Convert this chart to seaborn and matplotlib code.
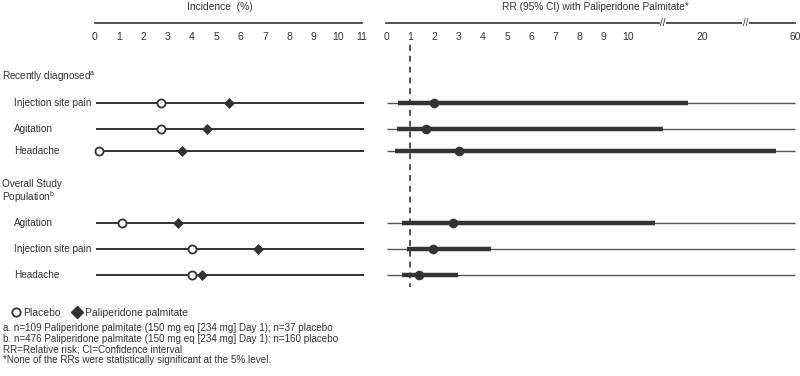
import matplotlib
matplotlib.use("Agg")
import matplotlib.pyplot as plt
from matplotlib.lines import Line2D
from matplotlib.transforms import blended_transform_factory
import numpy as np
import pandas as pd
import seaborn as sns

# data
events = ['Injection site pain', 'Agitation', 'Headache',
          'Agitation', 'Injection site pain', 'Headache']
placebo_pct = [2.7, 2.7, 0.15, 1.1, 4.0, 4.0]
pp_pct = [5.5, 4.6, 3.6, 3.4, 6.7, 4.4]
rr = [2.0, 1.65, 3.0, 2.75, 1.95, 1.35]
ci_low = [0.5, 0.45, 0.37, 0.65, 0.85, 0.68]
ci_high = [18.1, 14.7, 51.9, 13.6, 4.34, 2.97]

inc_ticks = list(range(0, 12))
rr_ticks = list(range(0, 11)) + [20, 60]
rr_breaks = [14.7, 38.7]

# layout (pixels from top of figure)
row_pos = [103, 129, 151, 223, 249, 275]
header_pos = [77, 192]
headers = ['Recently diagnosed$^{\\mathrm{a}}$', 'Overall Study\nPopulation$^{\\mathrm{b}}$']

df = pd.DataFrame({'event': events, 'row': row_pos, 'placebo': placebo_pct,
                   'pp': pp_pct, 'rr': rr, 'lo': ci_low, 'hi': ci_high})

sns.set_style('white')
plt.rcParams['font.family'] = ['Liberation Sans', 'DejaVu Sans']
plt.rcParams['mathtext.fontset'] = 'custom'
plt.rcParams['mathtext.rm'] = 'Liberation Sans'
dark = '#333333'

W, H = 800, 376
fig = plt.figure(figsize=(8, 3.76), dpi=100)
top, bot = 23, 300
ax1 = fig.add_axes([95 / W, 1 - bot / H, 267 / W, (bot - top) / H])
ax2 = fig.add_axes([386 / W, 1 - bot / H, 409 / W, (bot - top) / H])

# piecewise (broken) scale for the RR axis
knots_v = [0, 10, 20, 60]
knots_u = [0, 10, 13.06, 16.9]
fwd = lambda v: np.interp(v, knots_v, knots_u)
inv = lambda u: np.interp(u, knots_u, knots_v)
ax2.set_xscale('function', functions=(fwd, inv))

# left panel: incidence
ax1.hlines(df['row'], 0.05, 11.1, color=dark, lw=1.4, clip_on=False, zorder=1)
sns.scatterplot(data=df, x='placebo', y='row', ax=ax1, marker='o', s=34,
                color='white', edgecolor=dark, linewidth=1.3, zorder=3, clip_on=False)
sns.scatterplot(data=df, x='pp', y='row', ax=ax1, marker='D', s=26,
                color=dark, edgecolor=dark, linewidth=0.5, zorder=4, clip_on=False)

# right panel: relative risk
ax2.hlines(df['row'], 0.05, 60, color='#555555', lw=1.0, zorder=1, clip_on=False)
ax2.hlines(df['row'], df['lo'], df['hi'], color=dark, lw=3.2, zorder=2)
sns.scatterplot(data=df, x='rr', y='row', ax=ax2, marker='o', s=48,
                color=dark, edgecolor=dark, linewidth=0, zorder=4)
ax2.vlines(1, 45, 287, color=dark, lw=1.2, linestyles=(0, (3.5, 3)), zorder=3, clip_on=False)

for ax, lim, ticks in [(ax1, (0, 11), inc_ticks), (ax2, (0, 60), rr_ticks)]:
    ax.set_xlim(*lim)
    ax.set_ylim(bot, top)
    ax.set_xticks(ticks)
    ax.set_xticklabels([str(t) for t in ticks])
    ax.set_yticks([])
    ax.set_xlabel('')
    ax.set_ylabel('')
    for s in ['top', 'left', 'right']:
        ax.spines[s].set_visible(False)
    ax.spines['bottom'].set_position(('axes', 1.0))
    ax.spines['bottom'].set_color(dark)
    ax.spines['bottom'].set_linewidth(1.2)
    ax.tick_params(axis='x', direction='out', length=3, width=1.0, pad=3.5,
                   labelsize=7.5, colors=dark, labelcolor=dark)
    ax.set_facecolor('none')

for b in rr_breaks:
    ax2.text(b, top, '//', ha='center', va='center', fontsize=7, color=dark,
             bbox=dict(facecolor='white', edgecolor='none', pad=0.3), clip_on=False, zorder=5)

# row labels and section headers
lab_tr = blended_transform_factory(fig.transFigure, ax1.transData)
for ev, y in zip(events, row_pos):
    ax1.text(14 / W, y, ev, transform=lab_tr, ha='left', va='center', fontsize=7.2, color=dark)
for hd, y in zip(headers, header_pos):
    ax1.text(2 / W, y, hd, transform=lab_tr, ha='left', va='center', fontsize=7.2,
             color=dark, linespacing=1.05)

# titles
fig.text(220 / W, 1 - 7 / H, 'Incidence  (%)', ha='center', va='center', fontsize=7.4, color=dark)
fig.text(595 / W, 1 - 7 / H, 'RR (95% CI) with Paliperidone Palmitate*', ha='center', va='center',
         fontsize=7.3, color=dark)

# legend
handles = [Line2D([], [], ls='none', marker='o', markersize=6, markerfacecolor='white',
                  markeredgecolor=dark, markeredgewidth=1.3),
           Line2D([], [], ls='none', marker='D', markersize=6, markerfacecolor=dark,
                  markeredgecolor=dark)]
fig.legend(handles, ['Placebo', 'Paliperidone palmitate'], loc='center left',
           bbox_to_anchor=(12 / W, 1 - 313 / H), ncol=2, frameon=False, fontsize=7.5,
           handlelength=0.7, handletextpad=0.4, columnspacing=1.2, borderpad=0, borderaxespad=0,
           labelcolor=dark)

notes = ['a. n=109 Paliperidone palmitate (150 mg eq [234 mg] Day 1); n=37 placebo',
         'b. n=476 Paliperidone palmitate (150 mg eq [234 mg] Day 1); n=160 placebo',
         'RR=Relative risk; CI=Confidence interval',
         '*None of the RRs were statistically significant at the 5% level.']
for i, n in enumerate(notes):
    fig.text(3 / W, 1 - (328 + 10.6 * i) / H, n, ha='left', va='center', fontsize=7.1, color=dark)

fig.savefig('out.png', dpi=100, facecolor='white')
